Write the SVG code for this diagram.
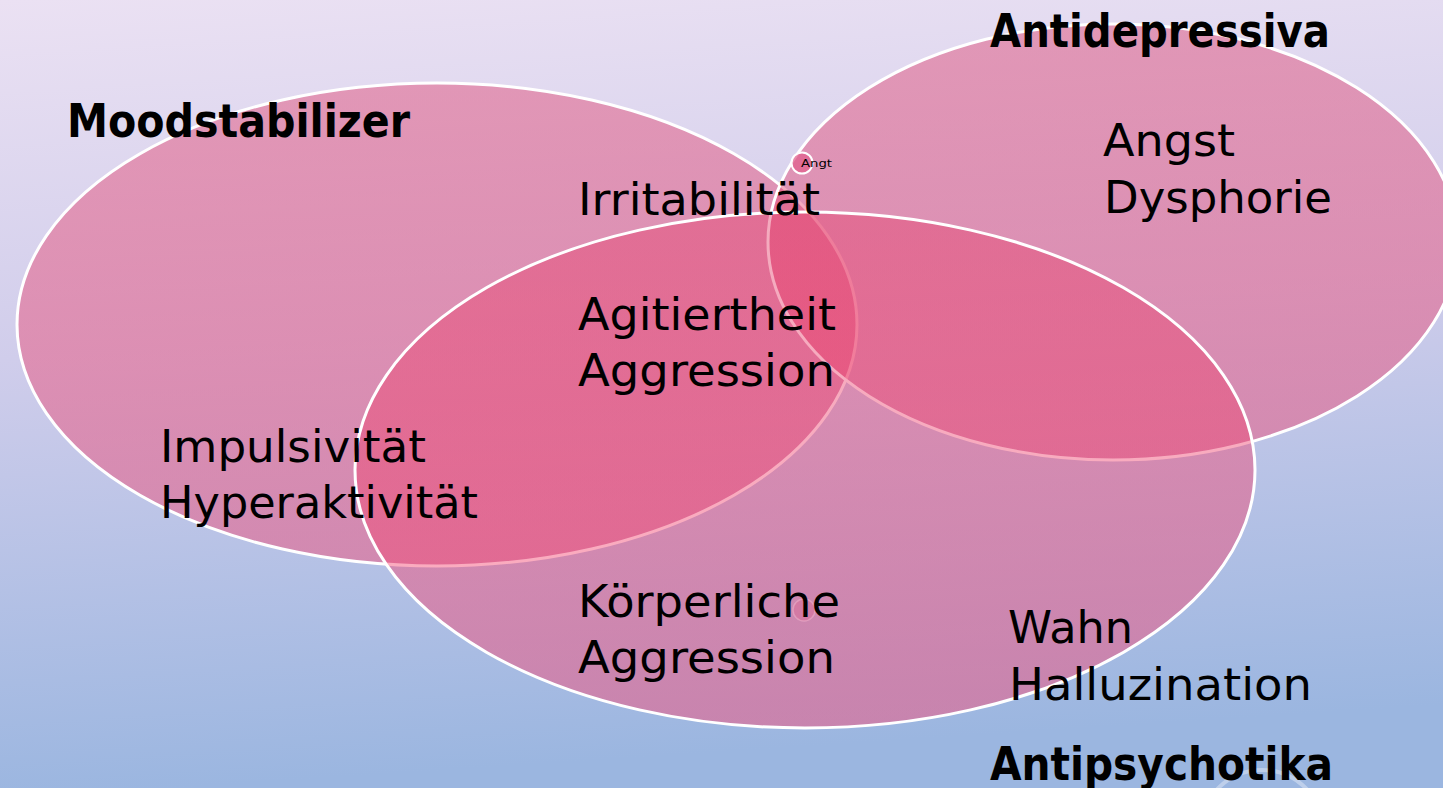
<svg xmlns="http://www.w3.org/2000/svg" width="1443" height="788" viewBox="0 0 1443 788">
<defs>
<linearGradient id="bg" x1="0" y1="0" x2="0.12" y2="1">
<stop offset="0" stop-color="#ebe1f3"/>
<stop offset="0.45" stop-color="#d0cdeb"/>
<stop offset="1" stop-color="#9bb6e0"/>
</linearGradient>
<linearGradient id="pink" gradientUnits="userSpaceOnUse" x1="0" y1="0" x2="0" y2="788">
<stop offset="0" stop-color="#dc436f"/>
<stop offset="1" stop-color="#fe4671"/>
</linearGradient>
<style>
.set{fill:url(#pink);fill-opacity:0.45;stroke:#ffffff;stroke-width:3}
.t{font-family:"DejaVu Sans","Liberation Sans",sans-serif;font-size:44px;fill:#000}
.h{font-family:"DejaVu Sans","Liberation Sans",sans-serif;font-size:46px;font-weight:bold;fill:#000}
</style>
</defs>
<rect x="0" y="0" width="1443" height="788" fill="url(#bg)"/>
<circle cx="1262" cy="832" r="62" fill="none" stroke="#ffffff" stroke-opacity="0.35" stroke-width="4"/>
<g id="moodstabilizer">
<ellipse class="set" cx="437" cy="324.5" rx="420" ry="241.5"/>
</g>
<g id="antidepressiva">
<ellipse class="set" cx="1113" cy="242" rx="345" ry="218"/>
</g>
<g id="antipsychotika">
<ellipse class="set" cx="805" cy="470" rx="450" ry="258"/>
</g>
<g id="angt-marker">
<circle cx="802" cy="163" r="10.5" fill="#e0608e" fill-opacity="0.75" stroke="#ffffff" stroke-width="2"/>
<text x="801" y="167" font-family="DejaVu Sans, sans-serif" font-size="11" textLength="31" lengthAdjust="spacingAndGlyphs">Angt</text>
</g>
<g id="faint-marker">
<circle cx="804" cy="610" r="11" fill="#e0608e" fill-opacity="0.35" stroke="#f4b8cf" stroke-opacity="0.5" stroke-width="1.5"/>
</g>
<g id="connectors"></g>
<g id="labels">
<text class="h" x="67" y="137" textLength="343" lengthAdjust="spacingAndGlyphs">Moodstabilizer</text>
<text class="h" x="990" y="47" textLength="340" lengthAdjust="spacingAndGlyphs">Antidepressiva</text>
<text class="h" x="990" y="780" textLength="343" lengthAdjust="spacingAndGlyphs">Antipsychotika</text>
<text class="t" x="578" y="215" textLength="242" lengthAdjust="spacingAndGlyphs">Irritabilität</text>
<text class="t" x="578" y="330" textLength="258" lengthAdjust="spacingAndGlyphs">Agitiertheit</text>
<text class="t" x="578" y="386" textLength="257" lengthAdjust="spacingAndGlyphs">Aggression</text>
<text class="t" x="1103" y="156" textLength="132" lengthAdjust="spacingAndGlyphs">Angst</text>
<text class="t" x="1104" y="213" textLength="228" lengthAdjust="spacingAndGlyphs">Dysphorie</text>
<text class="t" x="160" y="462" textLength="266" lengthAdjust="spacingAndGlyphs">Impulsivität</text>
<text class="t" x="160" y="518" textLength="318" lengthAdjust="spacingAndGlyphs">Hyperaktivität</text>
<text class="t" x="578" y="617" textLength="262" lengthAdjust="spacingAndGlyphs">Körperliche</text>
<text class="t" x="578" y="673" textLength="257" lengthAdjust="spacingAndGlyphs">Aggression</text>
<text class="t" x="1008" y="643" textLength="125" lengthAdjust="spacingAndGlyphs">Wahn</text>
<text class="t" x="1009" y="700" textLength="303" lengthAdjust="spacingAndGlyphs">Halluzination</text>
</g>
</svg>
